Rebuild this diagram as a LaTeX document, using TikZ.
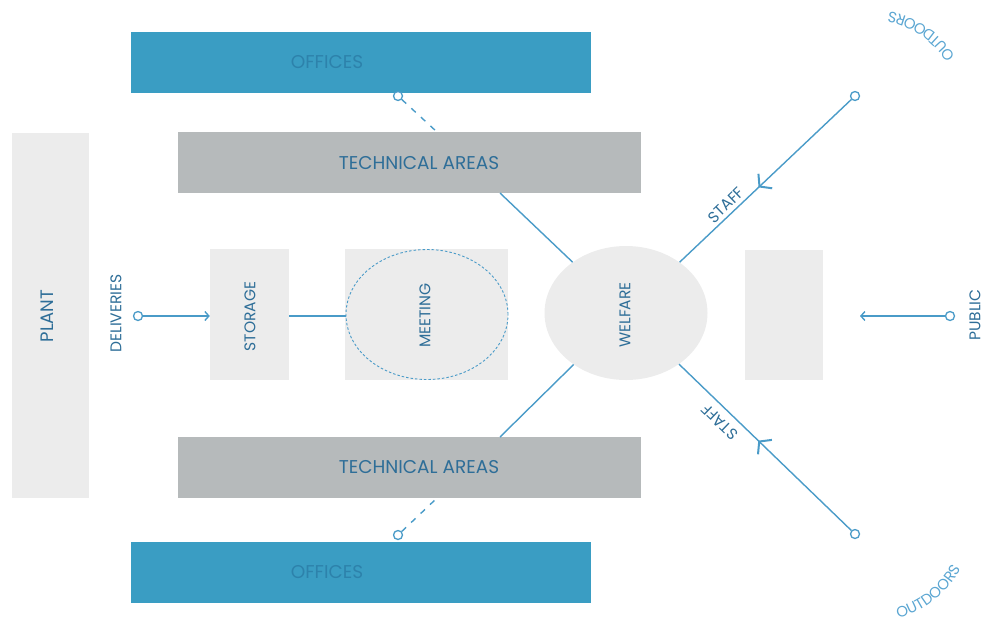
\documentclass[tikz,border=0pt]{standalone}
\usepackage{fontspec}
\setmainfont{Poppins}
\usetikzlibrary{arrows.meta,decorations.markings,decorations.text,shapes.geometric,calc}

\definecolor{officeblue}{HTML}{3A9DC3}
\definecolor{officetext}{HTML}{2D82AB}
\definecolor{techgrey}{HTML}{B6BABB}
\definecolor{paleblock}{HTML}{ECECEC}
\definecolor{labelblue}{HTML}{2E6E98}
\definecolor{flowblue}{HTML}{4A9BC8}
\definecolor{outblue}{HTML}{5BA6D2}

\tikzset{
  txt/.style={font=\fontsize{15.5}{17}\selectfont, text=labelblue, inner sep=0pt},
  bigtxt/.style={font=\fontsize{18.5}{20}\selectfont, text=labelblue, inner sep=0pt},
  office/.style={rectangle, fill=officeblue, inner sep=0pt, minimum width=460pt, minimum height=61pt},
  tech/.style={rectangle, fill=techgrey, inner sep=0pt, minimum width=463pt, minimum height=61pt},
  pale/.style={rectangle, fill=paleblock, inner sep=0pt},
  port/.style={circle, draw=flowblue, fill=white, line width=1.3pt, minimum size=9pt, inner sep=0pt},
  flow/.style={draw=flowblue, line width=1.4pt},
  link/.style={flow, dash pattern=on 6pt off 7pt},
  barb/.style={-{Straight Barb[length=4pt,width=9pt,line width=1.4pt]}},
  midbarb/.style={postaction={decorate},
    decoration={markings, mark=at position #1 with {\arrow{Straight Barb[length=8pt,width=20pt,line width=2pt]}}}},
  arctext/.style={decorate, decoration={text along path, text align=center,
    text={|\fontsize{15}{17}\selectfont\color{outblue}|#1}}}
}

\begin{document}
\begin{tikzpicture}[x=1pt,y=-1pt]
\useasboundingbox (0,0) rectangle (984,622);

% main blocks
\node[office] (offtop) at (361,62) {};
\node[office] (offbot) at (361,572) {};
\node[tech] (techtop) at (409.5,162.5) {};
\node[tech] (techbot) at (409.5,467.5) {};
\node[pale, minimum width=77pt, minimum height=365pt] (plant) at (50.5,315.5) {};
\node[pale, minimum width=79pt, minimum height=131pt] (storage) at (249.5,314.5) {};
\node[pale, minimum width=163pt, minimum height=131pt] (meeting) at (426.5,314.5) {};
\node[ellipse, draw=flowblue, line width=0.9pt, dash pattern=on 2.5pt off 2pt,
      minimum width=162pt, minimum height=130pt, inner sep=0pt] (meetring) at (427,314.5) {};
\node[ellipse, fill=paleblock, minimum width=163pt, minimum height=134pt, inner sep=0pt] (welfare) at (626,313) {};
\node[pale, minimum width=78pt, minimum height=130pt] (entry) at (784,315) {};

% block labels
\node[bigtxt, text=officetext] (offtoplbl) at (327,62) {OFFICES};
\node[bigtxt, text=officetext] (offbotlbl) at (327,572) {OFFICES};
\node[bigtxt] (techtoplbl) at (419,163) {TECHNICAL AREAS};
\node[bigtxt] (techbotlbl) at (419,467) {TECHNICAL AREAS};
\node[txt, rotate=90] (plantlbl) at (47,316) {\fontsize{18}{20}\selectfont PLANT};
\node[txt, rotate=90] (storagelbl) at (250,316.5) {STORAGE};
\node[txt, rotate=90] (meetinglbl) at (425,315.5) {MEETING};
\node[txt, rotate=90] (welfarelbl) at (625,315) {WELFARE};

% side labels
\node[txt, rotate=90] (deliv) at (116,313.5) {DELIVERIES};
\node[txt, rotate=90] (public) at (975,315) {PUBLIC};

% deliveries in, storage to meeting
\node[port] (pdel) at (138,316) {};
\draw[flow, barb] (pdel) -- (pdel -| storage.west);
\draw[flow] (storage.east |- pdel) -- (meetring.west |- pdel);

% public in
\node[port] (ppub) at (950,316) {};
\coordinate (pubend) at (860,316);
\draw[flow, barb] (ppub) -- (pubend);

% offices to technical areas
\node[port] (dtop) at (398,96) {};
\coordinate (dtopend) at (437,132);
\draw[link] (dtop) -- (dtopend);
\node[port] (dbot) at (398,535) {};
\coordinate (dbotend) at (437,498);
\draw[link] (dbot) -- (dbotend);

% technical areas to welfare
\coordinate (ttop) at (500,193);
\coordinate (tbot) at (500,437);
\draw[flow] (ttop) -- (welfare);
\draw[flow] (tbot) -- (welfare);

% staff routes
\node[port] (stop) at (855,96) {};
\node[port] (sbot) at (855,534) {};
\draw[flow, midbarb=0.54] (stop) -- (welfare);
\draw[flow, midbarb=0.54] (sbot) -- (welfare);
\node[txt, rotate=44] (stafftop) at (726,205) {STAFF};
\node[txt, rotate=136] (staffbot) at (720,422) {STAFF};

% outdoors labels on arcs
\path[arctext=OUTDOORS] (870,112) ++(-6:102) arc[start angle=-6, end angle=-106, radius=102];
\path[arctext=OUTDOORS] (870,517) ++(101:105) arc[start angle=101, end angle=3, radius=105];
\end{tikzpicture}
\end{document}
